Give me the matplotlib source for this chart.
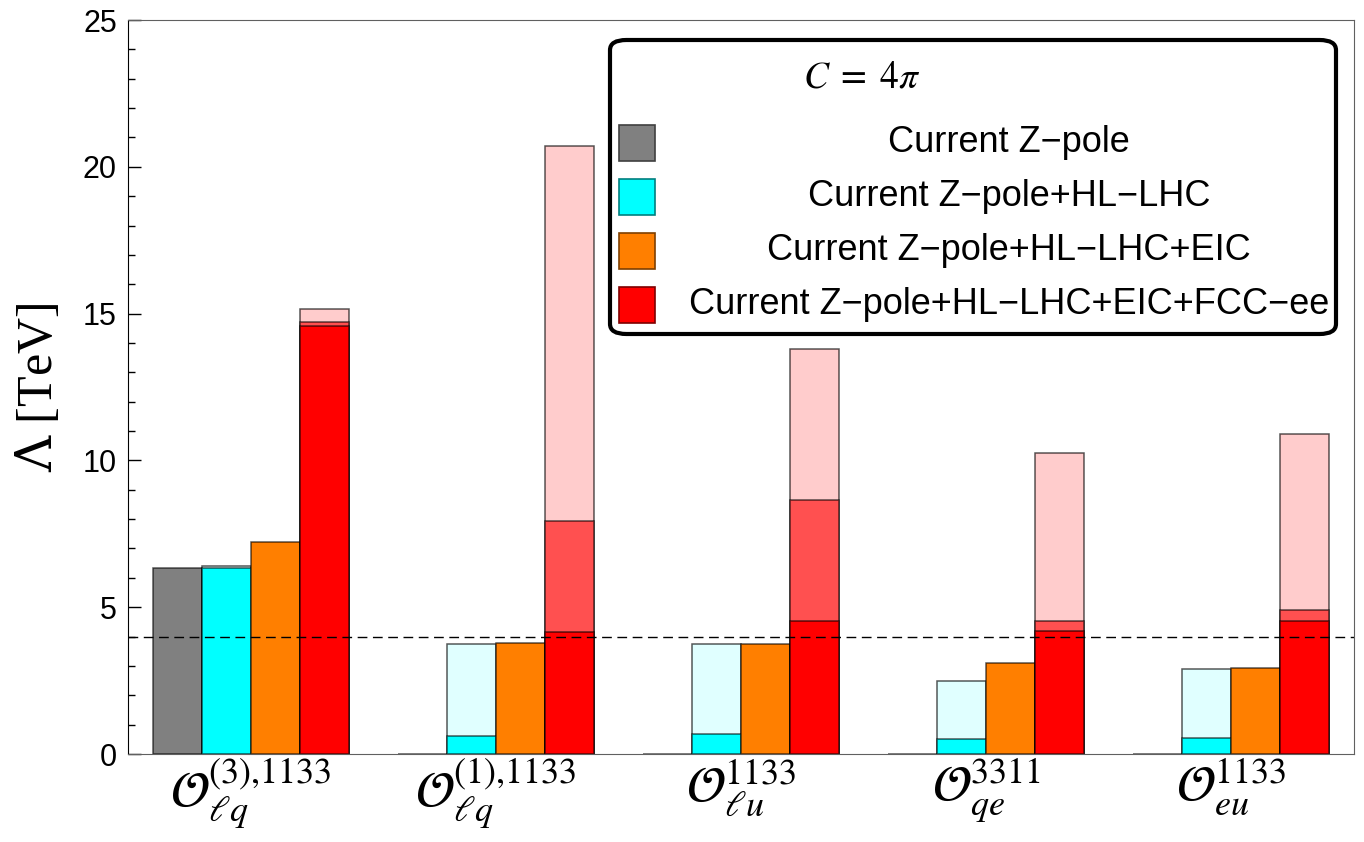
import numpy as np
import matplotlib.pyplot as plt
from matplotlib.patches import FancyBboxPatch, Rectangle

plt.rcParams['font.family'] = ['Liberation Sans', 'DejaVu Sans']
plt.rcParams['mathtext.fontset'] = 'stix'

operators = [r'$\mathcal{O}_{\ell q}^{(3){,}1133}$', r'$\mathcal{O}_{\ell q}^{(1){,}1133}$',
             r'$\mathcal{O}_{\ell u}^{1133}$', r'$\mathcal{O}_{qe}^{3311}$',
             r'$\mathcal{O}_{eu}^{1133}$']
labels = ['Current Z\u2212pole', 'Current Z\u2212pole+HL\u2212LHC',
          'Current Z\u2212pole+HL\u2212LHC+EIC',
          'Current Z\u2212pole+HL\u2212LHC+EIC+FCC\u2212ee']

zpole = [6.34, 0, 0, 0, 0]
hllhc_low = [6.34, 0.63, 0.68, 0.50, 0.53]
hllhc_high = [6.39, 3.74, 3.73, 2.48, 2.88]
eic = [7.21, 3.77, 3.74, 3.11, 2.94]
fcc_low = [14.59, 4.17, 4.52, 4.18, 4.52]
fcc_mid = [14.73, 7.95, 8.65, 4.53, 4.92]
fcc_high = [15.15, 20.7, 13.78, 10.25, 10.9]

W, H = 1364, 842
fig = plt.figure(figsize=(W / 100, H / 100), dpi=100)
ax = fig.add_axes([128 / W, 1 - 754 / H, (1354 - 128) / W, (754 - 20) / H])

x = np.arange(len(operators))
w = 0.2
ec = (0, 0, 0, 0.65)
lw = 1.1

ax.bar(x - 1.5 * w, zpole, w, color='#808080', edgecolor=ec, linewidth=lw)
ax.bar(x - 0.5 * w, hllhc_high, w, color='#e0ffff', edgecolor=ec, linewidth=lw)
ax.bar(x - 0.5 * w, hllhc_low, w, color='#00ffff', edgecolor=ec, linewidth=lw)
ax.bar(x + 0.5 * w, eic, w, color='#ff7f00', edgecolor=ec, linewidth=lw)
ax.bar(x + 1.5 * w, fcc_high, w, color='#ffcccc', edgecolor=ec, linewidth=lw)
ax.bar(x + 1.5 * w, fcc_mid, w, color='#ff5050', edgecolor=ec, linewidth=lw)
ax.bar(x + 1.5 * w, fcc_low, w, color='#ff0000', edgecolor=ec, linewidth=lw)

ax.axhline(4, color='black', linestyle=(0, (7, 4)), linewidth=1)

ax.set_xlim(-0.5, 4.5)
ax.set_ylim(0, 25)
ax.set_yticks([0, 5, 10, 15, 20, 25])
ax.set_yticks(np.arange(0, 26, 1), minor=True)
ax.tick_params(axis='y', which='major', direction='in', length=9, width=1,
               labelsize=22, pad=8)
ax.tick_params(axis='y', which='minor', direction='in', length=5, width=1)
ax.set_xticks(x)
ax.set_xticklabels(operators, fontsize=37)
ax.tick_params(axis='x', length=0, pad=2)
ax.set_ylabel(r'$\Lambda$ [TeV]', fontsize=36, family='Liberation Serif', labelpad=14)
ax.yaxis.label.set_math_fontfamily('dejavuserif')
for s in ['top', 'right', 'bottom']:
    ax.spines[s].set_color('#606060')
ax.spines['left'].set_color('black')

# legend box drawn by hand (text centred like the original)
def fx(px):
    return px / W

def fy(py):
    return 1 - py / H

box = FancyBboxPatch((fx(610), fy(334)), fx(1336) - fx(610), fy(40) - fy(334),
                     boxstyle='round,pad=0,rounding_size=0.012',
                     transform=fig.transFigure, facecolor='white',
                     edgecolor='black', linewidth=3, zorder=5)
fig.patches.append(box)
fig.text(fx(862), fy(78), r'$C\;=\;4\pi$', fontsize=27, ha='center', va='center', zorder=6)
colors = ['#808080', '#00ffff', '#ff7f00', '#ff0000']
edges = ['#404040', '#007f7f', '#7f3f00', '#7f0000']
rows = [143, 197, 251, 305]
for lab, c, e, r in zip(labels, colors, edges, rows):
    fig.patches.append(Rectangle((fx(619), fy(r + 18)), fx(36), 36 / H,
                                 transform=fig.transFigure, facecolor=c,
                                 edgecolor=e, linewidth=1.2, zorder=6))
    fig.text(fx(1009), fy(r), lab, fontsize=26, ha='center', va='center', zorder=6)

fig.savefig('out.png', dpi=100)
